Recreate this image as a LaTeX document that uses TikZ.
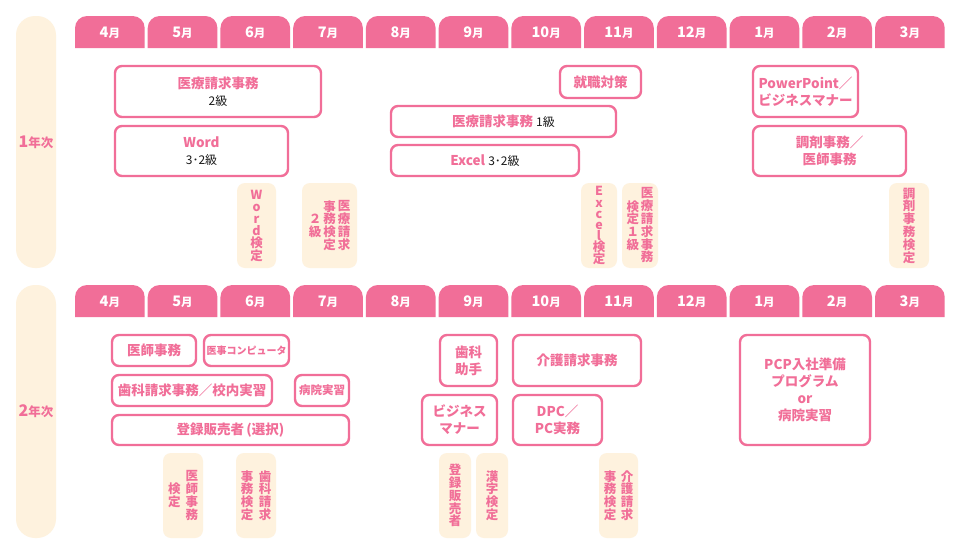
\documentclass[tikz,border=0pt]{standalone}
\usepackage{fontspec}
\setmainfont{Noto Sans CJK JP}
\usepackage{xcolor}
\usepackage{tikz}
\definecolor{rosepink}{HTML}{F16E98}
\definecolor{cream}{HTML}{FEF2DE}
\definecolor{gradeblack}{HTML}{1A1A1A}

% vertical column of characters (tategaki)
\makeatletter
\newcommand\tatecol[2][12.8pt]{$\vcenter{\baselineskip=#1\lineskiplimit=-20pt
  \@tfor\tc@ch:=#2\do{\hbox to 13pt{\hss\tc@ch\hss}}}$}
\makeatother
\newcommand\grade[1]{{\mdseries\fontsize{12}{14}\selectfont\color{gradeblack}#1}}
\newcommand\mon[1]{{\fontsize{14.5}{15}\selectfont#1}{\fontsize{11.5}{12}\selectfont 月}}
\newcommand\nentext[1]{{\fontsize{16}{16}\selectfont#1}{\fontsize{12.5}{14}\selectfont 年次}}

\begin{document}
\begin{tikzpicture}[x=1pt,y=-1pt,
  box/.style={draw=rosepink, line width=2.4pt, rounded corners=7pt, fill=white,
    align=center, text=rosepink, inner sep=0pt,
    font=\fontsize{13.5}{17}\selectfont\bfseries},
  kentei/.style={fill=cream, rounded corners=8pt, text=rosepink, inner sep=0pt,
    font=\fontsize{12.5}{13}\selectfont\bfseries},
  nenji/.style={fill=cream, rounded corners=19pt, minimum width=40, text=rosepink,
    inner sep=0pt, font=\bfseries},
  month/.style={text=white, inner sep=0pt, font=\bfseries}]
\useasboundingbox (0,0) rectangle (961,554);
\fill[white] (0,0) rectangle (961,554);

% year labels
\node[nenji, minimum height=252] (nen1) at (36,142) {\nentext{1}};
\node[nenji, minimum height=253] (nen2) at (36,411.5) {\nentext{2}};

% month tabs
\foreach \row/\ytop in {1/16, 2/285}{
  \foreach \m [count=\i from 0] in {4,5,6,7,8,9,10,11,12,1,2,3}{
    \pgfmathsetmacro\xl{75+\i*72.73}
    \fill[rosepink] (\xl,\ytop+32) [rounded corners=12] -- (\xl,\ytop) -- (\xl+69.7,\ytop)
      [sharp corners] -- (\xl+69.7,\ytop+32) -- cycle;
    \node[month] (tab\row-\m) at (\xl+34.85,\ytop+17) {\mon{\m}};
  }
}

% 1st year
\node[box, minimum width=206, minimum height=51] (iryo2) at (218,91.5)
  {医療請求事務\\\grade{2級}};
\node[box, minimum width=173, minimum height=50] (word) at (201.5,151)
  {Word\\\grade{3･2級}};
\node[box, minimum width=225, minimum height=31] (iryo1) at (503.5,121.5)
  {医療請求事務 \grade{1級}};
\node[box, minimum width=188, minimum height=31] (excel) at (485,160.5)
  {Excel \grade{3･2級}};
\node[box, minimum width=81, minimum height=32] (shushoku) at (600.5,82)
  {就職対策};
\node[box, minimum width=105, minimum height=51] (ppt) at (805.5,91.5)
  {PowerPoint／\\ビジネスマナー};
\node[box, minimum width=153, minimum height=50] (chozai) at (829.5,151)
  {調剤事務／\\医師事務};

\node[kentei, minimum width=39, minimum height=85] (kWord) at (256.5,225.5)
  {\tatecol[12.2pt]{Word検定}};
\node[kentei, minimum width=55, minimum height=85] (kIryo2) at (329.5,225.5)
  {\tatecol{２級}\hspace{1.5pt}\tatecol{事務検定}\hspace{1.5pt}\tatecol{医療請求}};
\node[kentei, minimum width=36, minimum height=85] (kExcel) at (599,225.5)
  {\tatecol[11.2pt]{Excel検定}};
\node[kentei, minimum width=36, minimum height=85] (kIryo1) at (640,225.5)
  {\tatecol{検定１級}\hspace{1.3pt}\tatecol{医療請求事務}};
\node[kentei, minimum width=40, minimum height=85] (kChozai) at (909,225.5)
  {\tatecol{調剤事務検定}};

% 2nd year
\node[box, minimum width=84, minimum height=31] (ishi) at (154,350.5) {医師事務};
\node[box, minimum width=85, minimum height=31, font=\fontsize{10}{12}\selectfont\bfseries]
  (ijicom) at (246.5,350.5) {医事コンピュータ};
\node[box, minimum width=160, minimum height=31] (shika) at (192,390.5)
  {歯科請求事務／校内実習};
\node[box, minimum width=54, minimum height=31, font=\fontsize{11.5}{13}\selectfont\bfseries]
  (byoin) at (322,390.5) {病院実習};
\node[box, minimum width=237, minimum height=30] (toroku) at (230.5,430)
  {登録販売者\,(選択)};
\node[box, minimum width=57, minimum height=51] (joshu) at (468.5,360.5)
  {歯科\\助手};
\node[box, minimum width=75, minimum height=50] (manner) at (459.5,420)
  {ビジネス\\マナー};
\node[box, minimum width=128, minimum height=51] (kaigo) at (577,360.5)
  {介護請求事務};
\node[box, minimum width=89, minimum height=50] (dpc) at (557.5,420)
  {DPC／\\PC実務};
\node[box, minimum width=130, minimum height=110] (pcp) at (805,390)
  {PCP入社準備\\プログラム\\or\\病院実習};

\node[kentei, minimum width=40, minimum height=85] (kIshi) at (183,495.5)
  {\tatecol{検定}\hspace{4.5pt}\tatecol{医師事務}};
\node[kentei, minimum width=40, minimum height=85] (kShika) at (256,495.5)
  {\tatecol{事務検定}\hspace{5pt}\tatecol{歯科請求}};
\node[kentei, minimum width=32, minimum height=85] (kToroku) at (455,495.5)
  {\tatecol{登録販売者}};
\node[kentei, minimum width=32, minimum height=85] (kKanji) at (492,495.5)
  {\tatecol{漢字検定}};
\node[kentei, minimum width=39, minimum height=85] (kKaigo) at (618.5,495.5)
  {\tatecol{事務検定}\hspace{4pt}\tatecol{介護請求}};
\end{tikzpicture}
\end{document}
